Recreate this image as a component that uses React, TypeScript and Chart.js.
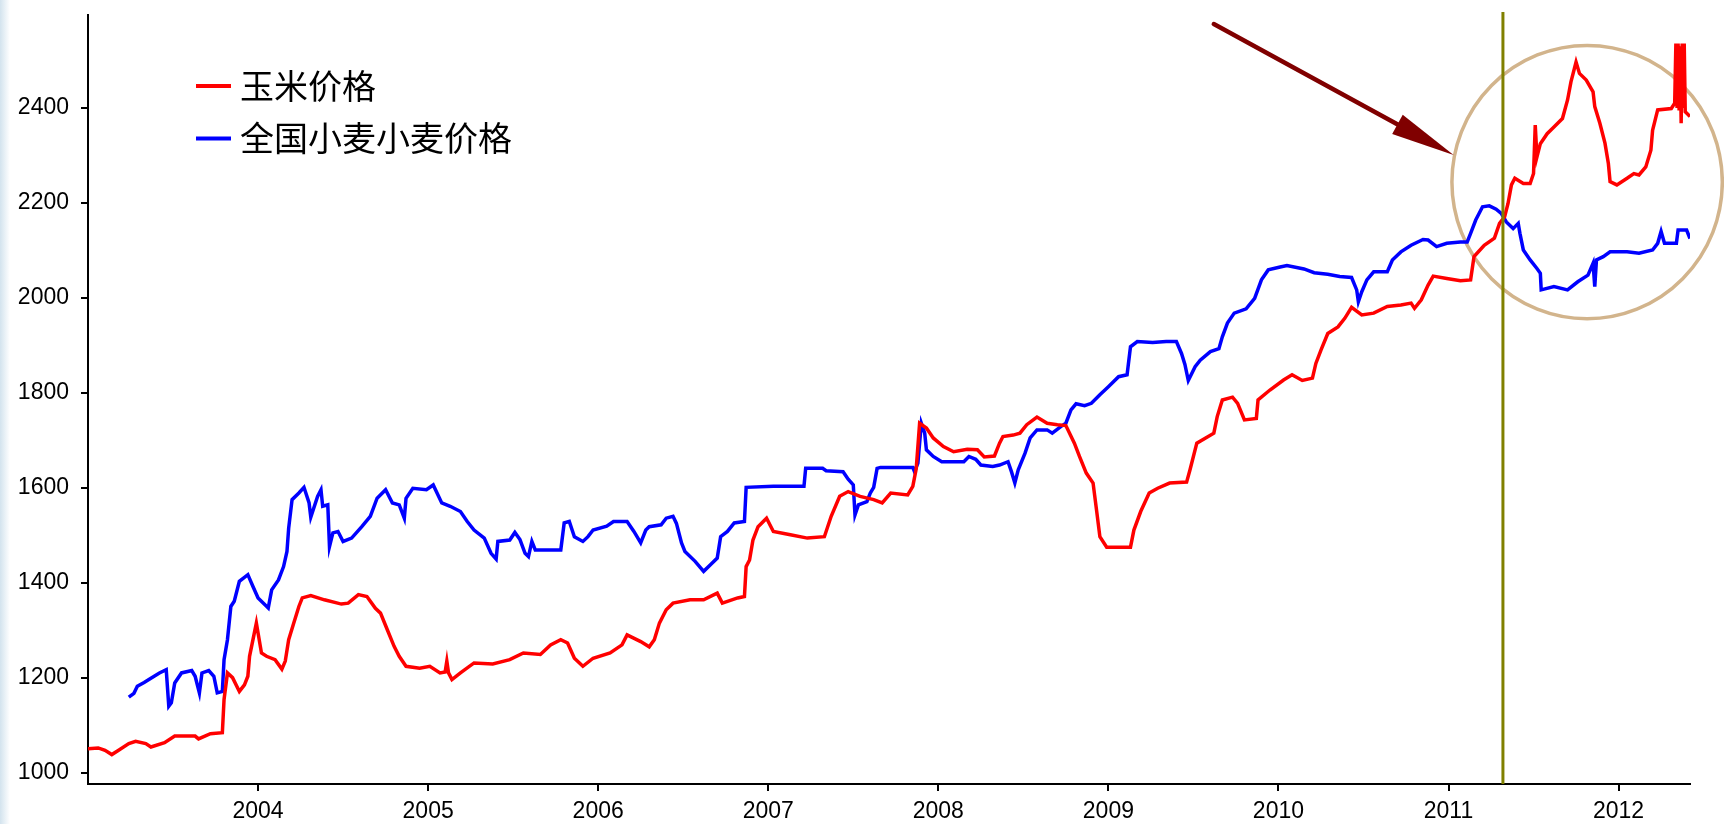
import React, { useEffect, useRef } from "react";
import { Chart, registerables } from "chart.js";

Chart.register(...registerables);

// ---- data ----
const cornYears = [
  2003.0, 2003.06, 2003.1, 2003.14, 2003.18, 2003.24, 2003.28, 2003.34, 2003.37, 2003.45,
  2003.51, 2003.63, 2003.65, 2003.72, 2003.79, 2003.8, 2003.82, 2003.85, 2003.89, 2003.92,
  2003.94, 2003.95, 2003.99, 2004.0, 2004.02, 2004.05, 2004.1, 2004.14, 2004.16, 2004.18,
  2004.21, 2004.24, 2004.26, 2004.31, 2004.39, 2004.49, 2004.53, 2004.59, 2004.64, 2004.69,
  2004.72, 2004.76, 2004.8, 2004.83, 2004.87, 2004.95, 2005.01, 2005.07, 2005.1, 2005.11,
  2005.12, 2005.14, 2005.19, 2005.27, 2005.38, 2005.48, 2005.56, 2005.66, 2005.72, 2005.78,
  2005.82, 2005.86, 2005.91, 2005.97, 2006.07, 2006.14, 2006.17, 2006.25, 2006.3, 2006.33,
  2006.36, 2006.4, 2006.44, 2006.54, 2006.62, 2006.7, 2006.73, 2006.82, 2006.86, 2006.87,
  2006.89, 2006.91, 2006.94, 2006.99, 2007.03, 2007.13, 2007.23, 2007.33, 2007.37, 2007.42,
  2007.47, 2007.54, 2007.62, 2007.67, 2007.72, 2007.82, 2007.85, 2007.87, 2007.89, 2007.93,
  2007.97, 2008.03, 2008.09, 2008.17, 2008.23, 2008.27, 2008.33, 2008.36, 2008.38, 2008.44,
  2008.48, 2008.52, 2008.58, 2008.64, 2008.7, 2008.75, 2008.8, 2008.83, 2008.87, 2008.91,
  2008.93, 2008.95, 2008.99, 2009.13, 2009.15, 2009.19, 2009.24, 2009.29, 2009.36, 2009.46,
  2009.48, 2009.52, 2009.62, 2009.64, 2009.67, 2009.73, 2009.76, 2009.8, 2009.87, 2009.88,
  2009.95, 2010.03, 2010.08, 2010.14, 2010.2, 2010.22, 2010.25, 2010.29, 2010.35, 2010.39,
  2010.43, 2010.49, 2010.56, 2010.64, 2010.72, 2010.78, 2010.8, 2010.84, 2010.88, 2010.91,
  2010.99, 2011.07, 2011.13, 2011.15, 2011.21, 2011.27, 2011.3, 2011.33, 2011.35, 2011.37,
  2011.39, 2011.44, 2011.48, 2011.5, 2011.51, 2011.52, 2011.54, 2011.58, 2011.62, 2011.67,
  2011.7, 2011.72, 2011.75, 2011.77, 2011.81, 2011.85, 2011.86, 2011.89, 2011.92, 2011.94,
  2011.95, 2011.99, 2012.05, 2012.09, 2012.12, 2012.16, 2012.19, 2012.2, 2012.23, 2012.31,
  2012.33, 2012.337, 2012.344, 2012.35, 2012.356, 2012.362, 2012.368, 2012.374, 2012.38, 2012.386,
  2012.392, 2012.42,
];
const cornPrices = [
  1050, 1052, 1047, 1038, 1047, 1061, 1066, 1061, 1054, 1063,
  1077, 1077, 1071, 1082, 1084, 1154, 1210, 1200, 1171, 1185,
  1203, 1245, 1315, 1294, 1252, 1245, 1238, 1218, 1235, 1280,
  1315, 1350, 1368, 1373, 1364, 1355, 1357, 1375, 1371, 1346,
  1336, 1301, 1266, 1245, 1224, 1220, 1224, 1210, 1212, 1235,
  1210, 1196, 1210, 1231, 1229, 1238, 1252, 1249, 1269, 1280,
  1273, 1241, 1224, 1241, 1252, 1269, 1290, 1276, 1265, 1280,
  1315, 1343, 1357, 1364, 1364, 1378, 1357, 1368, 1371, 1434,
  1448, 1490, 1518, 1536, 1508, 1501, 1494, 1497, 1540, 1582,
  1592, 1582, 1575, 1568, 1589, 1585, 1603, 1640, 1736, 1726,
  1705, 1687, 1676, 1681, 1680, 1665, 1667, 1694, 1708, 1711,
  1715, 1733, 1749, 1736, 1733, 1731, 1694, 1666, 1631, 1610,
  1554, 1497, 1475, 1475, 1511, 1550, 1589, 1599, 1610, 1612,
  1638, 1694, 1715, 1750, 1785, 1791, 1778, 1743, 1746, 1785,
  1806, 1827, 1838, 1826, 1831, 1862, 1890, 1925, 1939, 1957,
  1980, 1964, 1968, 1982, 1985, 1989, 1978, 1996, 2027, 2046,
  2041, 2036, 2038, 2087, 2111, 2126, 2157, 2171, 2199, 2238,
  2252, 2241, 2241, 2262, 2364, 2297, 2325, 2346, 2360, 2378,
  2417, 2455, 2497, 2473, 2459, 2434, 2403, 2368, 2326, 2283,
  2245, 2238, 2252, 2262, 2259, 2276, 2311, 2353, 2396, 2399,
  2410, 2536, 2400, 2536, 2395, 2530, 2368, 2536, 2400, 2536,
  2392, 2382,
];

const wheatYears = [
  2003.24, 2003.27, 2003.29, 2003.33, 2003.37, 2003.42, 2003.46, 2003.475, 2003.49, 2003.51,
  2003.55, 2003.61, 2003.63, 2003.655, 2003.67, 2003.71, 2003.74, 2003.76, 2003.79, 2003.8,
  2003.82, 2003.84, 2003.86, 2003.89, 2003.94, 2003.97, 2004.0, 2004.06, 2004.08, 2004.12,
  2004.15, 2004.17, 2004.18, 2004.2, 2004.24, 2004.27, 2004.3, 2004.31, 2004.35, 2004.37,
  2004.38, 2004.41, 2004.42, 2004.44, 2004.47, 2004.5, 2004.55, 2004.61, 2004.66, 2004.7,
  2004.75, 2004.79, 2004.83, 2004.86, 2004.87, 2004.91, 2004.99, 2005.03, 2005.08, 2005.13,
  2005.19, 2005.23, 2005.27, 2005.33, 2005.37, 2005.4, 2005.41, 2005.48, 2005.51, 2005.54,
  2005.57, 2005.59, 2005.61, 2005.63, 2005.78, 2005.8, 2005.83, 2005.86, 2005.91, 2005.94,
  2005.97, 2006.05, 2006.09, 2006.17, 2006.21, 2006.25, 2006.28, 2006.3, 2006.37, 2006.4,
  2006.44, 2006.46, 2006.49, 2006.51, 2006.57, 2006.62, 2006.66, 2006.7, 2006.72, 2006.76,
  2006.8, 2006.86, 2006.87, 2007.03, 2007.21, 2007.22, 2007.32, 2007.34, 2007.44, 2007.47,
  2007.5, 2007.51, 2007.53, 2007.58, 2007.6, 2007.62, 2007.64, 2007.66, 2007.85, 2007.86,
  2007.88, 2007.9, 2007.92, 2007.93, 2007.97, 2008.02, 2008.15, 2008.18, 2008.22, 2008.25,
  2008.32, 2008.36, 2008.41, 2008.43, 2008.45, 2008.47, 2008.51, 2008.54, 2008.58, 2008.64,
  2008.67, 2008.72, 2008.75, 2008.78, 2008.81, 2008.86, 2008.9, 2008.95, 2009.0, 2009.06,
  2009.11, 2009.13, 2009.17, 2009.26, 2009.34, 2009.4, 2009.43, 2009.45, 2009.47, 2009.51,
  2009.54, 2009.6, 2009.65, 2009.67, 2009.7, 2009.74, 2009.81, 2009.86, 2009.9, 2009.94,
  2010.01, 2010.05, 2010.15, 2010.21, 2010.29, 2010.36, 2010.43, 2010.46, 2010.47, 2010.49,
  2010.52, 2010.56, 2010.64, 2010.67, 2010.72, 2010.78, 2010.85, 2010.88, 2010.93, 2010.99,
  2011.07, 2011.11, 2011.13, 2011.16, 2011.2, 2011.24, 2011.28, 2011.31, 2011.34, 2011.38,
  2011.41, 2011.42, 2011.44, 2011.48, 2011.52, 2011.54, 2011.545, 2011.62, 2011.7, 2011.76,
  2011.82, 2011.85, 2011.86, 2011.87, 2011.91, 2011.95, 2012.05, 2012.12, 2012.2, 2012.23,
  2012.25, 2012.27, 2012.34, 2012.35, 2012.4, 2012.42,
];
const wheatPrices = [
  1159, 1167, 1182, 1190, 1199, 1210, 1217, 1140, 1147, 1189,
  1210, 1215, 1203, 1168, 1210, 1215, 1203, 1168, 1171, 1238,
  1280, 1350, 1361, 1403, 1417, 1392, 1368, 1347, 1385, 1406,
  1434, 1466, 1515, 1575, 1589, 1601, 1568, 1538, 1582, 1596,
  1561, 1564, 1476, 1505, 1508, 1487, 1494, 1518, 1540, 1578,
  1596, 1568, 1564, 1536, 1578, 1599, 1596, 1606, 1568, 1561,
  1550, 1529, 1511, 1494, 1462, 1450, 1487, 1490, 1506, 1491,
  1462, 1455, 1487, 1469, 1469, 1526, 1529, 1497, 1487, 1497,
  1511, 1519, 1529, 1529, 1508, 1484, 1511, 1518, 1522, 1536,
  1540, 1525, 1484, 1466, 1445, 1424, 1438, 1452, 1497, 1508,
  1526, 1529, 1601, 1603, 1603, 1641, 1641, 1636, 1634, 1618,
  1606, 1543, 1564, 1571, 1589, 1601, 1641, 1643, 1643, 1634,
  1652, 1736, 1715, 1680, 1666, 1655, 1655, 1666, 1660, 1648,
  1645, 1648, 1655, 1634, 1610, 1638, 1673, 1705, 1722, 1722,
  1715, 1729, 1736, 1764, 1777, 1773, 1778, 1796, 1813, 1834,
  1838, 1897, 1908, 1906, 1908, 1908, 1883, 1860, 1826, 1855,
  1869, 1887, 1893, 1918, 1947, 1968, 1977, 1999, 2038, 2059,
  2065, 2068, 2061, 2053, 2050, 2045, 2043, 2017, 1992, 2013,
  2038, 2055, 2055, 2080, 2097, 2111, 2123, 2122, 2108, 2115,
  2118, 2118, 2136, 2164, 2192, 2194, 2187, 2178, 2160, 2146,
  2157, 2136, 2101, 2080, 2062, 2052, 2017, 2024, 2017, 2034,
  2048, 2073, 2024, 2080, 2087, 2097, 2097, 2094, 2101, 2115,
  2140, 2115, 2115, 2143, 2143, 2125,
];

const seriesLabels = ["玉米价格", "全国小麦小麦价格"];
const seriesColors = ["#ff0000", "#0000ff"];
const xTickYears = [2004, 2005, 2006, 2007, 2008, 2009, 2010, 2011, 2012];
const yTickValues = [1000, 1200, 1400, 1600, 1800, 2000, 2200, 2400];
const X_MIN = 2003.0;
const X_MAX = 2012.42;
const Y_MIN = 976;
const Y_MAX = 2596;

// annotations, in data units
const markerYear = 2011.32;
const arrowFrom = { x: 2009.62, y: 2577 };
const arrowTo = { x: 2011.03, y: 2301 };
const circleCenter = { x: 2011.815, y: 2244 };
const circleRadiusYears = 0.795;
const circleRadiusValue = 288;

const toPoints = (xs: number[], ys: number[]) => xs.map((x, i) => ({ x, y: ys[i] }));

const tickFont = { family: "'Liberation Sans', Arial, sans-serif", size: 23 };

const annotationPlugin = {
  id: "annotations",
  beforeDatasetsDraw(chart: any) {
    const { ctx, scales } = chart;
    const x = scales.x;
    const y = scales.y;
    const cx = x.getPixelForValue(circleCenter.x);
    const cy = y.getPixelForValue(circleCenter.y);
    const rx = x.getPixelForValue(circleCenter.x + circleRadiusYears) - cx;
    const ry = cy - y.getPixelForValue(circleCenter.y + circleRadiusValue);
    ctx.save();
    ctx.strokeStyle = "#d2b48c";
    ctx.lineWidth = 3.5;
    ctx.beginPath();
    ctx.ellipse(cx, cy, rx, ry, 0, 0, Math.PI * 2);
    ctx.stroke();
    ctx.restore();
  },
  afterDatasetsDraw(chart: any) {
    const { ctx, scales, chartArea } = chart;
    const x = scales.x;
    const y = scales.y;
    // olive vertical line
    const mx = x.getPixelForValue(markerYear);
    ctx.save();
    ctx.strokeStyle = "#808000";
    ctx.lineWidth = 3;
    ctx.beginPath();
    ctx.moveTo(mx, chartArea.top - 3);
    ctx.lineTo(mx, chartArea.bottom);
    ctx.stroke();

    // arrow
    const x0 = x.getPixelForValue(arrowFrom.x);
    const y0 = y.getPixelForValue(arrowFrom.y);
    const x1 = x.getPixelForValue(arrowTo.x);
    const y1 = y.getPixelForValue(arrowTo.y);
    const dx = x1 - x0;
    const dy = y1 - y0;
    const len = Math.hypot(dx, dy);
    const ux = dx / len;
    const uy = dy / len;
    const headLen = 64;
    const headHalf = 11;
    const bx = x1 - ux * headLen;
    const by = y1 - uy * headLen;
    ctx.strokeStyle = "#800000";
    ctx.fillStyle = "#800000";
    ctx.lineWidth = 4.5;
    ctx.lineCap = "round";
    ctx.beginPath();
    ctx.moveTo(x0, y0);
    ctx.lineTo(bx + ux * 4, by + uy * 4);
    ctx.stroke();
    ctx.beginPath();
    ctx.moveTo(x1, y1);
    ctx.lineTo(bx - uy * headHalf, by + ux * headHalf);
    ctx.lineTo(bx + uy * headHalf, by - ux * headHalf);
    ctx.closePath();
    ctx.fill();
    ctx.restore();
  },
  afterDraw(chart: any) {
    const { ctx, chartArea } = chart;
    ctx.save();
    const rows = [chartArea.top + 71, chartArea.top + 123.5];
    ctx.font = "34px 'Noto Sans CJK SC', sans-serif";
    ctx.textBaseline = "middle";
    ctx.textAlign = "left";
    rows.forEach((ry, i) => {
      ctx.strokeStyle = seriesColors[i];
      ctx.lineWidth = 4;
      ctx.beginPath();
      ctx.moveTo(chartArea.left + 108, ry);
      ctx.lineTo(chartArea.left + 143, ry);
      ctx.stroke();
      ctx.fillStyle = "#000";
      ctx.fillText(seriesLabels[i], chartArea.left + 152, ry);
    });
    ctx.restore();
  },
};

export default function App() {
  const canvasRef = useRef<HTMLCanvasElement>(null);

  useEffect(() => {
    if (!canvasRef.current) return;
    const chart = new Chart(canvasRef.current, {
      type: "line",
      data: {
        datasets: [
          {
            label: seriesLabels[0],
            data: toPoints(cornYears, cornPrices),
            borderColor: seriesColors[0],
            borderWidth: 3.5,
            pointRadius: 0,
            tension: 0,
            fill: false,
          },
          {
            label: seriesLabels[1],
            data: toPoints(wheatYears, wheatPrices),
            borderColor: seriesColors[1],
            borderWidth: 3.5,
            pointRadius: 0,
            tension: 0,
            fill: false,
          },
        ],
      },
      options: {
        responsive: false,
        devicePixelRatio: 1,
        animation: false,
        events: [],
        layout: { padding: { top: 15, right: 34, left: 0, bottom: 0 } },
        plugins: { legend: { display: false }, tooltip: { enabled: false } },
        scales: {
          x: {
            type: "linear",
            min: X_MIN,
            max: X_MAX,
            afterBuildTicks: (s: any) => {
              s.ticks = xTickYears.map((v) => ({ value: v }));
            },
            afterFit: (s: any) => {
              s.height = 40;
              s.paddingLeft = 0;
              s.paddingRight = 0;
            },
            ticks: {
              font: tickFont,
              color: "#000",
              padding: 7,
              maxRotation: 0,
              autoSkip: false,
              callback: (v: any) => String(v),
            },
            grid: {
              drawOnChartArea: false,
              drawTicks: true,
              tickLength: 7,
              color: "#000",
              lineWidth: 2,
            },
            border: { display: true, color: "#000", width: 2 },
          },
          y: {
            type: "linear",
            min: Y_MIN,
            max: Y_MAX,
            afterBuildTicks: (s: any) => {
              s.ticks = yTickValues.map((v) => ({ value: v }));
            },
            afterFit: (s: any) => {
              s.width = 88;
              s.paddingTop = 0;
              s.paddingBottom = 0;
            },
            ticks: {
              font: tickFont,
              color: "#000",
              padding: 12,
              autoSkip: false,
              callback: (v: any) => String(v),
            },
            grid: {
              drawOnChartArea: false,
              drawTicks: true,
              tickLength: 7,
              color: "#000",
              lineWidth: 2,
            },
            border: { display: true, color: "#000", width: 2 },
          },
        },
      },
      plugins: [annotationPlugin],
    });
    return () => chart.destroy();
  }, []);

  return (
    <div
      style={{
        position: "fixed",
        left: 0,
        top: 0,
        width: 1724,
        height: 824,
        background: "#ffffff",
        overflow: "hidden",
      }}
    >
      <div
        style={{
          position: "absolute",
          left: 0,
          top: 0,
          width: 10,
          height: 824,
          background: "linear-gradient(to right, #d3e3ee, #ffffff)",
        }}
      />
      <canvas
        ref={canvasRef}
        width={1724}
        height={824}
        style={{ position: "absolute", left: 0, top: 0, width: 1724, height: 824 }}
      />
    </div>
  );
}
